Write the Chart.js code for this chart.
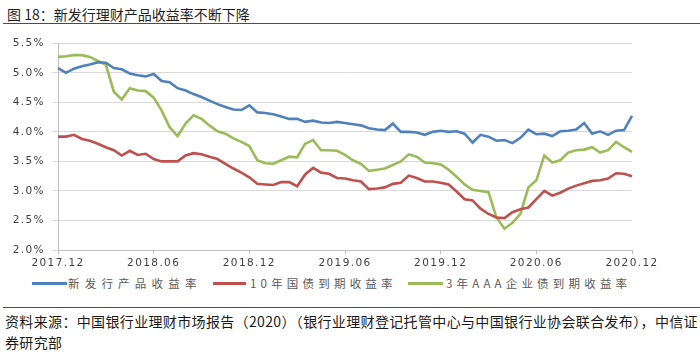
<!DOCTYPE html>
<html>
<head>
<meta charset="utf-8">
<script src="https://cdn.jsdelivr.net/npm/chart.js@4"></script>
<style>
  html,body{margin:0;padding:0;background:#fff;}
  body{width:700px;height:355px;position:relative;overflow:hidden;font-family:"Noto Sans CJK SC","Noto Sans",sans-serif;}
  #title{position:absolute;left:7px;top:4px;font-size:14px;line-height:20px;color:#1f1f1f;white-space:nowrap;}
  .rule{position:absolute;left:3px;width:697px;height:1px;background:#c8161d;}
  #chartWrap{position:absolute;left:0;top:30px;width:700px;height:245px;}
  .lgl{position:absolute;height:3px;top:282px;}
  .lgt{position:absolute;top:275px;font-size:11.5px;line-height:16px;color:#595959;white-space:nowrap;}
  #foot{position:absolute;left:5px;top:311px;font-size:14px;line-height:21px;color:#1a1a1a;letter-spacing:0.35px;white-space:nowrap;}
</style>
</head>
<body>
<div id="title">图 18：新发行理财产品收益率不断下降</div>
<div class="rule" style="top:23px"></div>
<div id="chartWrap"><canvas id="c" width="700" height="245"></canvas></div>
<div id="legend"></div>
<div class="rule" style="top:307px"></div>
<div id="foot">资料来源：中国银行业理财市场报告（2020）（银行业理财登记托管中心与中国银行业协会联合发布），中信证<br>券研究部</div>
<script>
// tick labels on the x axis (every 6 months)
const tickLabels = ["2017.12","2018.06","2018.12","2019.06","2019.12","2020.06","2020.12"];
// series names
const seriesNames = ["新发行产品收益率","10年国债到期收益率","3年AAA企业债到期收益率"];
const seriesColors = ["#4F81BD","#C0504D","#9BBB59"];

// half-month observations from 2017.12 to 2020.12 (73 points), yields in %
const newProductYield = [
  5.08,5.00,5.07,5.11,5.14,5.18,5.17,5.08,5.06,4.99,4.96,4.94,
  4.98,4.86,4.84,4.74,4.70,4.64,4.59,4.53,4.47,4.42,4.38,4.37,
  4.45,4.33,4.32,4.30,4.26,4.22,4.22,4.17,4.19,4.16,4.15,4.17,
  4.15,4.13,4.11,4.06,4.04,4.03,4.14,4.00,4.00,3.99,3.95,4.00,
  4.02,4.00,4.01,3.97,3.82,3.95,3.92,3.85,3.86,3.81,3.90,4.04,
  3.96,3.97,3.93,4.01,4.02,4.04,4.15,3.97,4.01,3.95,4.02,4.03,
  4.27
];
const treasury10Y = [
  3.92,3.92,3.95,3.88,3.85,3.80,3.74,3.69,3.60,3.68,3.61,3.63,
  3.54,3.50,3.50,3.50,3.60,3.64,3.62,3.58,3.54,3.46,3.38,3.31,
  3.23,3.12,3.11,3.10,3.15,3.15,3.08,3.28,3.39,3.31,3.29,3.22,
  3.21,3.18,3.16,3.03,3.04,3.06,3.12,3.14,3.26,3.22,3.16,3.16,
  3.14,3.11,2.99,2.86,2.84,2.70,2.61,2.55,2.54,2.64,2.69,2.72,
  2.86,3.00,2.92,2.97,3.04,3.09,3.13,3.17,3.18,3.21,3.30,3.29,
  3.25
];
const corpAAA3Y = [
  5.27,5.28,5.30,5.30,5.27,5.20,5.14,4.68,4.55,4.74,4.70,4.69,
  4.58,4.36,4.08,3.93,4.14,4.28,4.22,4.11,4.01,3.97,3.89,3.83,
  3.76,3.52,3.47,3.46,3.52,3.58,3.57,3.80,3.86,3.69,3.69,3.68,
  3.61,3.52,3.46,3.34,3.36,3.38,3.44,3.50,3.62,3.58,3.48,3.47,
  3.45,3.36,3.24,3.11,3.02,3.00,2.98,2.55,2.36,2.46,2.61,3.06,
  3.18,3.60,3.48,3.52,3.65,3.69,3.70,3.74,3.65,3.69,3.83,3.74,
  3.66
];
const yTicks = {min:2.0, max:5.5, step:0.5};

// category labels: half-month periods
const periods = [];
for (let i = 0; i < newProductYield.length; i++) {
  const m = 12 + Math.floor(i/2);
  const y = 2017 + Math.floor((m-1)/12);
  const mm = ((m-1)%12)+1;
  periods.push(y + "." + String(mm).padStart(2,"0") + (i%2 ? "下" : "上"));
}

// HTML legend
const legendPos = [
  {line:32, lw:35, text:68, ls:5.2},
  {line:213, lw:33, text:250, ls:4.2},
  {line:408, lw:35, text:446, ls:4.2}
];
const lg = document.getElementById("legend");
seriesNames.forEach((n,i)=>{
  const l = document.createElement("div");
  l.className="lgl"; l.style.left=legendPos[i].line+"px"; l.style.width=legendPos[i].lw+"px"; l.style.background=seriesColors[i];
  lg.appendChild(l);
  const t = document.createElement("div");
  t.className="lgt"; t.style.left=legendPos[i].text+"px"; t.style.letterSpacing=legendPos[i].ls+"px"; t.textContent=n;
  lg.appendChild(t);
});

const spacing = {
  id:"spacing",
  beforeLayout(chart){ chart.ctx.letterSpacing = "1.4px"; },
  beforeDraw(chart){ chart.ctx.letterSpacing = "1.4px"; }
};

const seriesData = [newProductYield, treasury10Y, corpAAA3Y];
new Chart(document.getElementById("c"), {
  type:"line",
  data:{
    labels: periods,
    datasets: seriesNames.map((n,i)=>({
      label:n, data:seriesData[i], borderColor:seriesColors[i], backgroundColor:seriesColors[i],
      borderWidth:2.6, pointRadius:0, tension:0, fill:false
    }))
  },
  options:{
    responsive:false, animation:false, devicePixelRatio:1,
    layout:{padding:{top:10,left:0,right:68,bottom:0}},
    plugins:{legend:{display:false}, tooltip:{enabled:false}},
    scales:{
      x:{
        type:"category", offset:false,
        afterFit(s){ s.height = 25; },
        grid:{display:true, drawOnChartArea:false, drawTicks:true, tickLength:4,
              color:(c)=> (c.index % 12 === 0 ? "#bfbfbf" : "rgba(0,0,0,0)")},
        border:{display:true, color:"#bfbfbf"},
        ticks:{autoSkip:false, maxRotation:0, minRotation:0, padding:3, color:"#404040",
               font:{family:"DejaVu Sans", size:10.5},
               callback:(v,i)=> (i % 12 === 0 ? tickLabels[i/12] : "")}
      },
      y:{
        min:yTicks.min, max:yTicks.max,
        afterFit(s){ s.width = 58; },
        grid:{color:"#d9d9d9", tickLength:6, drawTicks:true},
        border:{display:true, color:"#bfbfbf"},
        ticks:{stepSize:yTicks.step, padding:7, color:"#404040",
               font:{family:"DejaVu Sans", size:10.5},
               callback:(v)=> v.toFixed(1)+"%"}
      }
    }
  },
  plugins:[spacing]
});
</script>
</body>
</html>
